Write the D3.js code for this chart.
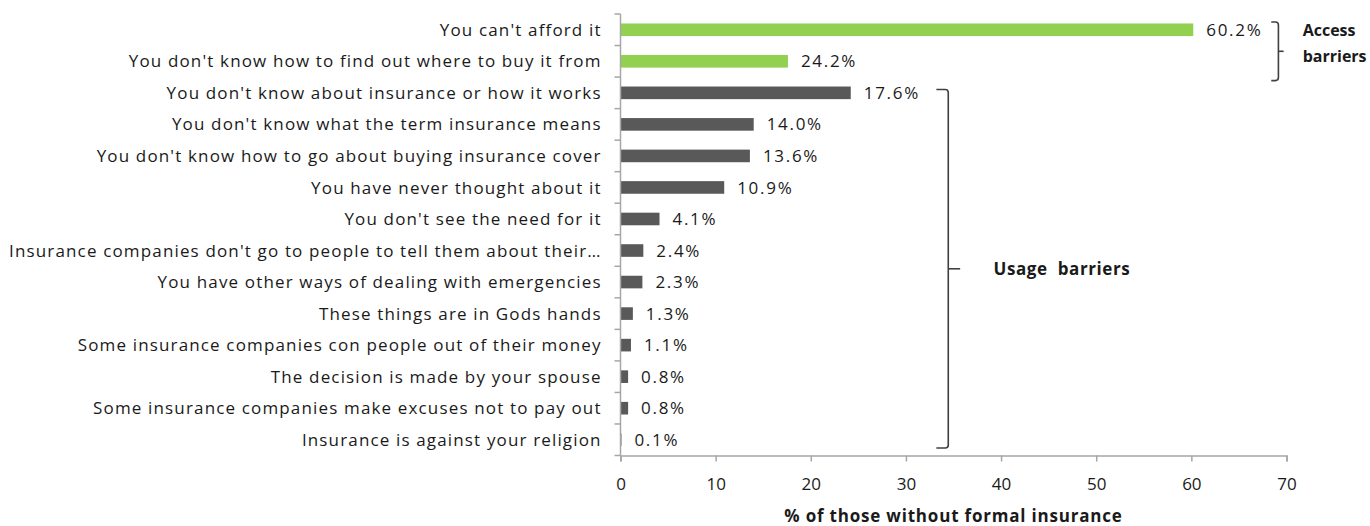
<!DOCTYPE html>
<html>
<head>
<meta charset="utf-8">
<script src="https://cdn.jsdelivr.net/npm/d3@7"></script>
<style>
  html, body { margin: 0; padding: 0; background: #fff; }
  svg { display: block; }
  text { font-family: "Open Sans", sans-serif; fill: #1a1a1a; }
</style>
</head>
<body>
<svg id="chart" width="1370" height="526"></svg>
<script>
// ---- data ----
const categories = [
  "You can't afford it",
  "You don't know how to find out where to buy it from",
  "You don't know about insurance or how it works",
  "You don't know what the term insurance means",
  "You don't know how to go about buying insurance cover",
  "You have never thought about it",
  "You don't see the need for it",
  "Insurance companies don't go to people to tell them about their…",
  "You have other ways of dealing with emergencies",
  "These things are in Gods hands",
  "Some insurance companies con people out of their money",
  "The decision is made by your spouse",
  "Some insurance companies make excuses not to pay out",
  "Insurance is against your religion"
];
// bar lengths as drawn in the picture
const barValues = [60.2, 17.6, 24.2, 14.0, 13.6, 10.9, 4.1, 2.4, 2.3, 1.3, 1.1, 0.8, 0.8, 0.1];
// data labels as printed in the picture
const valueLabels = ["60.2%", "24.2%", "17.6%", "14.0%", "13.6%", "10.9%", "4.1%", "2.4%", "2.3%", "1.3%", "1.1%", "0.8%", "0.8%", "0.1%"];
const groups = ["Access", "Access", "Usage", "Usage", "Usage", "Usage", "Usage", "Usage", "Usage", "Usage", "Usage", "Usage", "Usage", "Usage"];
const xTicks = [0, 10, 20, 30, 40, 50, 60, 70];
const xTitle = "% of those without formal insurance";
const bracketLabels = { Access: ["Access", "barriers"], Usage: ["Usage  barriers"] };

// ---- layout ----
const svg = d3.select("#chart");
const mLeft = 620.5, mRight = 1286.5, mTop = 14, mBottom = 455.5;
const colors = { Access: "#92d050", Usage: "#595959" };
const axisColor = "#a6a6a6";
const fs = "17px";
const catLS = 1.15;

const x = d3.scaleLinear().domain([0, 70]).range([mLeft, mRight]);
const y = d3.scaleBand().domain(categories).range([mTop, mBottom]).paddingInner(0.6).paddingOuter(0.3);
const step = y.step();

// bars
svg.append("g").selectAll("rect").data(categories).join("rect")
  .attr("x", x(0))
  .attr("y", d => y(d))
  .attr("width", (d, i) => x(barValues[i]) - x(0))
  .attr("height", y.bandwidth())
  .attr("fill", (d, i) => colors[groups[i]]);

// value labels
svg.append("g").selectAll("text").data(categories).join("text")
  .attr("x", (d, i) => x(barValues[i]) + 13)
  .attr("y", d => y(d) + y.bandwidth() / 2)
  .attr("dy", "0.36em")
  .style("font-size", fs)
  .style("letter-spacing", "1.7px")
  .text((d, i) => valueLabels[i]);

// category labels
svg.append("g").selectAll("text").data(categories).join("text")
  .attr("x", mLeft - 20 + catLS)
  .attr("y", d => y(d) + y.bandwidth() / 2)
  .attr("dy", "0.36em")
  .attr("text-anchor", "end")
  .style("font-size", fs)
  .style("letter-spacing", catLS + "px")
  .text(d => d);

// y axis line + ticks at band boundaries
const yAxisG = svg.append("g");
yAxisG.append("line").attr("x1", mLeft).attr("x2", mLeft).attr("y1", mTop).attr("y2", mBottom)
  .attr("stroke", axisColor).attr("stroke-width", 1.5);
yAxisG.selectAll("line.tk").data(d3.range(categories.length + 1)).join("line")
  .attr("class", "tk")
  .attr("x1", mLeft - 6).attr("x2", mLeft)
  .attr("y1", i => mTop + i * step).attr("y2", i => mTop + i * step)
  .attr("stroke", axisColor).attr("stroke-width", 1.5);

// x axis
const xAxis = d3.axisBottom(x).tickValues(xTicks).tickSize(6).tickPadding(16).tickFormat(d3.format("d"));
const xg = svg.append("g").attr("transform", `translate(0,${mBottom})`).call(xAxis);
xg.select(".domain").attr("stroke", axisColor).attr("stroke-width", 1.5);
xg.selectAll(".tick line").attr("stroke", axisColor).attr("stroke-width", 1.5);
xg.selectAll(".tick text").style("font-size", fs).style("font-family", "'Open Sans', sans-serif").attr("fill", "#1a1a1a");

svg.append("text")
  .attr("x", (mLeft + mRight) / 2)
  .attr("y", 516)
  .attr("dy", "0.36em")
  .attr("text-anchor", "middle")
  .style("font-size", fs).style("font-weight", "bold")
  .style("letter-spacing", "0.8px")
  .text(xTitle);

// brackets
function bracket(g, x0, x1, xt, y0, y1) {
  const r = 3, mid = (y0 + y1) / 2;
  g.append("path")
    .attr("d", `M${x0},${y0} H${x1 - r} Q${x1},${y0} ${x1},${y0 + r} V${y1 - r} Q${x1},${y1} ${x1 - r},${y1} H${x0}`)
    .attr("fill", "none").attr("stroke", "#404040").attr("stroke-width", 1.6);
  g.append("line").attr("x1", x1).attr("x2", xt).attr("y1", mid).attr("y2", mid)
    .attr("stroke", "#404040").attr("stroke-width", 1.6);
  return mid;
}
const bg = svg.append("g");
{
  const cats = categories.filter((c, i) => groups[i] === "Access");
  const y0 = y(cats[0]) - 1.5, y1 = y(cats[cats.length - 1]) + y.bandwidth() + 13;
  const mid = bracket(bg, x(68.4), x(69.15), x(69.7), y0, y1);
  bg.append("text").attr("x", x(71.7)).attr("y", mid - 21).attr("dy", "0.36em")
    .style("font-size", "16px").style("font-weight", "bold").text(bracketLabels.Access[0]);
  bg.append("text").attr("x", x(71.7)).attr("y", mid + 5).attr("dy", "0.36em")
    .style("font-size", "16px").style("font-weight", "bold").text(bracketLabels.Access[1]);
}
{
  const cats = categories.filter((c, i) => groups[i] === "Usage");
  const y0 = y(cats[0]) + 3, y1 = y(cats[cats.length - 1]) + y.bandwidth() + 2;
  const mid = bracket(bg, x(33.2), x(34.45), x(35.7), y0, y1);
  bg.append("text").attr("x", x(39.2)).attr("y", mid).attr("dy", "0.36em")
    .style("font-size", fs).style("font-weight", "bold")
    .style("letter-spacing", "0.6px")
    .attr("xml:space", "preserve")
    .text(bracketLabels.Usage[0]);
}
</script>
</body>
</html>
